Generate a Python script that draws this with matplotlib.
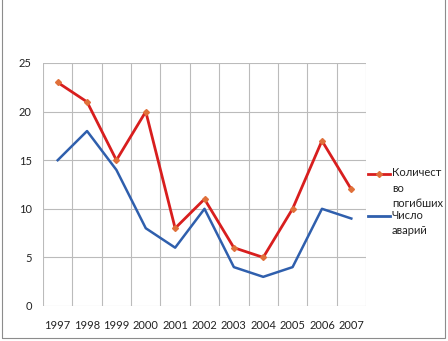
import matplotlib
matplotlib.use("Agg")
import matplotlib.pyplot as plt
from matplotlib.patches import Rectangle

years = ["1997", "1998", "1999", "2000", "2001", "2002", "2003", "2004", "2005", "2006", "2007"]
deaths = [23, 21, 15, 20, 8, 11, 6, 5, 10, 17, 12]
accidents = [15, 18, 14, 8, 6, 10, 4, 3, 4, 10, 9]
yticks = [0, 5, 10, 15, 20, 25]
labels = ["Количест\nво\nпогибших", "Число\nаварий"]

plt.rcParams['font.family'] = ['Lato', 'DejaVu Sans']

fig = plt.figure(figsize=(4.48, 3.41), dpi=100)
ax = fig.add_axes([43/448, 1-306/341, (366-43)/448, (306-63)/341])

red = '#D81E1E'
mk = '#E0703A'
blue = '#2F5FAD'

x = list(range(len(years)))
ax.plot(x, deaths, color=red, lw=2.0, marker='D', ms=3,
        markerfacecolor=mk, markeredgecolor=mk)
ax.plot(x, accidents, color=blue, lw=1.8)

ax.set_xlim(-0.5, len(years)-0.5)
ax.set_ylim(0, 25)
ax.set_yticks(yticks)
ax.set_xticks(x)
ax.set_xticklabels(years)
ax.grid(False)
for yv in yticks:
    ax.axhline(yv, color='#BBBBBB', lw=0.8, zorder=0)
for xv in [i-0.5 for i in range(len(years)+1)]:
    ax.axvline(xv, color='#BBBBBB', lw=0.8, zorder=0)
for s in ax.spines.values():
    s.set_visible(False)
ax.tick_params(axis='both', which='both', length=0, labelsize=8, colors='#222222')
ax.tick_params(axis='y', pad=8)
ax.tick_params(axis='x', pad=10)

# legend (drawn beside the plot area)
for (yl, col, lab, has_mk) in [(0.543, red, labels[0], True), (0.370, blue, labels[1], False)]:
    ax.plot([1.006, 1.074], [yl, yl], color=col, lw=2.0, transform=ax.transAxes, clip_on=False)
    if has_mk:
        ax.plot([1.040], [yl], marker='D', ms=3, color=mk, transform=ax.transAxes, clip_on=False)
    ax.text(1.080, yl + 0.027, lab, transform=ax.transAxes, va='top', ha='left',
            fontsize=8, color='#222222', linespacing=1.5)

fig.patches.append(Rectangle((2/448, 3/341), 443/448, 1.2, transform=fig.transFigure,
                             fill=False, edgecolor='#8C8C8C', lw=0.8))

fig.savefig('out.png', dpi=100)
